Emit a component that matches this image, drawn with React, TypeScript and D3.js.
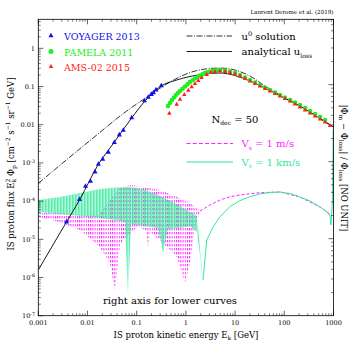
import React from "react";
import * as d3 from "d3";

// ---- data (E in GeV, flux E^2 Phi on left axis) ----
const voyagerE = [0.00374, 0.00687, 0.0091, 0.0115, 0.0142, 0.0166, 0.0204, 0.0265, 0.0351, 0.0443, 0.0534, 0.0791, 0.144, 0.172, 0.198, 0.219, 0.247, 0.316];
const voyagerF = [2.89e-5, 1.11e-4, 2.48e-4, 3.36e-4, 5.89e-4, 9.36e-4, 1.26e-3, 1.93e-3, 3.46e-3, 5.47e-3, 7.26e-3, 0.0154, 0.043, 0.0531, 0.0629, 0.0697, 0.0824, 0.106];

const pamelaE = [0.432, 0.475, 0.521, 0.573, 0.63, 0.69, 0.759, 0.853, 0.959, 1.08, 1.21, 1.36, 1.53, 1.72, 1.94, 2.17, 2.44, 2.75, 3.09, 3.47, 3.9, 4.39, 4.93, 6.24, 7.87, 9.95, 12.6, 15.9, 20.1, 25.4, 32.1, 40.5, 51.2, 64.7, 81.8, 103, 131, 165, 208, 264, 333, 421, 532, 672];
const pamelaF = [0.0309, 0.037, 0.0443, 0.0515, 0.0599, 0.0676, 0.0762, 0.0875, 0.1, 0.115, 0.131, 0.146, 0.162, 0.177, 0.194, 0.21, 0.226, 0.237, 0.247, 0.255, 0.262, 0.267, 0.27, 0.262, 0.247, 0.226, 0.2, 0.172, 0.148, 0.127, 0.109, 0.0942, 0.081, 0.0697, 0.0599, 0.0515, 0.0443, 0.0381, 0.0328, 0.0274, 0.0228, 0.0191, 0.0159, 0.0133];

const amsE = [0.46, 0.65, 0.759, 0.927, 1.12, 1.31, 1.53, 1.79, 2.09, 2.65, 3.24, 3.9, 4.93, 6.24, 7.87, 9.95, 12.6, 15.9, 20.1, 25.4, 32.1, 40.5, 51.2, 64.7, 81.8, 103, 131, 165, 208, 264, 333, 421, 532, 672, 849];
const amsF = [0.0199, 0.0342, 0.0462, 0.0617, 0.0796, 0.0989, 0.12, 0.1435, 0.172, 0.206, 0.232, 0.247, 0.254, 0.247, 0.232, 0.212, 0.188, 0.162, 0.139, 0.12, 0.103, 0.0887, 0.0762, 0.0656, 0.0564, 0.0485, 0.0417, 0.0348, 0.0291, 0.0243, 0.0202, 0.0169, 0.0141, 0.0118, 0.00953];

const u0E = [0.001, 0.01125, 0.0627, 0.186, 0.475, 1.21, 2.44, 4.93, 9.95, 20.1, 40.5, 98.6, 208, 532, 1000];
const u0F = [2.92e-4, 3.86e-3, 0.0228, 0.0599, 0.131, 0.232, 0.287, 0.305, 0.27, 0.188, 0.103, 0.0515, 0.0309, 0.0145, 0.0087];

const lossE = [0.001, 0.00173, 0.00374, 0.00705, 0.01633, 0.0346, 0.0802, 0.1476, 0.312, 0.6, 1.21, 2.44, 4.93, 9.95, 20.1, 40.5, 98.6, 208, 532, 1000];
const lossF = [1.57e-6, 5.25e-6, 2.84e-5, 1.13e-4, 8.81e-4, 3.42e-3, 0.0154, 0.0417, 0.103, 0.1435, 0.183, 0.212, 0.226, 0.194, 0.139, 0.0914, 0.05, 0.0309, 0.0145, 0.0087];

// ---- lower curves, right axis (relative difference) ----
// Vs = 1 km/s : oscillating band (upper / lower envelopes), then smooth tail
const kmsHiE = [0.001, 0.00276, 0.00705, 0.01795, 0.0379, 0.0731, 0.1476, 0.298, 0.6, 1.21, 1.68];
const kmsHi = [3.18e-5, 3.48e-5, 3.93e-5, 4.41e-5, 4.62e-5, 4.69e-5, 4.29e-5, 3.59e-5, 2.91e-5, 2.22e-5, 1.97e-5];
const kmsLoE = [0.001, 0.00276, 0.00705, 0.01795, 0.0379, 0.0578, 0.0665, 0.0766, 0.1476, 0.271, 0.343, 0.432, 0.759, 1.21, 1.68, 2.23];
const kmsLo = [2.22e-5, 2.09e-5, 1.97e-5, 1.86e-5, 1.75e-5, 1.65e-5, 1.86e-6, 1.55e-5, 1.46e-5, 1.38e-5, 6.52e-6, 1.34e-5, 1.38e-5, 1.46e-5, 1.22e-5, 2.91e-6];
const kmsTailE = [2.23, 2.65, 3.61, 4.93, 7.87, 12.6, 20.1, 32.1, 51.2, 81.8, 131, 208, 333, 532, 738, 849, 889, 955, 986];
const kmsTail = [2.91e-6, 9.62e-6, 1.43e-5, 1.93e-5, 2.61e-5, 3.12e-5, 3.51e-5, 3.81e-5, 3.98e-5, 4.04e-5, 3.86e-5, 3.48e-5, 3.09e-5, 2.58e-5, 2.22e-5, 1.97e-5, 1.51e-5, 3.18e-5, 2.58e-4];

// Vs = 1 m/s
const msHiE = [0.001, 0.00276, 0.00705, 0.01795, 0.0286, 0.0458, 0.0731, 0.134, 0.298, 0.659, 1.21, 1.94];
const msHi = [2.16e-5, 2.16e-5, 2.03e-5, 2.09e-5, 3.18e-5, 4.55e-5, 4.98e-5, 4.69e-5, 4.29e-5, 3.48e-5, 2.91e-5, 2.29e-5];
const msLoE = [0.001, 0.00276, 0.00705, 0.01795, 0.0286, 0.0362, 0.0458, 0.0527, 0.1014, 0.1545, 0.17, 0.186, 0.298, 0.659, 0.959, 1.21, 1.53, 1.94];
const msLo = [1.91e-5, 1.65e-5, 1.3e-5, 7.8e-6, 4.83e-6, 2.16e-6, 8.28e-6, 9.62e-6, 1.42e-5, 1.3e-5, 7.8e-6, 1.22e-5, 9.62e-6, 5.78e-6, 2.66e-6, 4.98e-6, 1.42e-5, 2.29e-5];
const msTailE = [1.94, 3.09, 4.93, 7.87, 12.6, 32.1, 81.8, 208, 532, 849];
const msTail = [2.29e-5, 2.74e-5, 3.18e-5, 3.51e-5, 3.7e-5, 3.96e-5, 4.04e-5, 3.48e-5, 2.58e-5, 2.09e-5];

const xTickLabels = ["0.001", "0.01", "0.1", "1", "10", "100", "1000"];
const yDecimalLabels = ["1", "0.1", "0.01"];
const yPowerLabels = ["-3", "-4", "-5", "-6", "-7"];

const W = 353;
const H = 353;
const L = 38.3, R = 333.5, T = 19.3, B = 315.7;
const FONT = "DejaVu Serif";
const GREEN = "#33e89a";
const MAGENTA = "#ff22ff";

export default function App() {
  const x = d3.scaleLog().domain([1e-3, 1e3]).range([L, R]);
  const y = d3.scaleLog().domain([1e-7, 5.75]).range([B, T]);
  const yR = d3.scaleLog().domain([1e-6, 7.06e-3]).range([B, T]);

  const line = d3.line<[number, number]>();
  const pts = (es: number[], vs: number[], sc: d3.ScaleLogarithmic<number, number>) =>
    es.map((e, i) => [x(e), sc(vs[i])] as [number, number]);
  const band = (hiE: number[], hi: number[], loE: number[], lo: number[]) =>
    line(pts(hiE, hi, yR).concat(pts(loE, lo, yR).reverse())) + "Z";

  // ticks
  const xMajor = d3.range(-3, 4).map((p) => 10 ** p);
  const xMinor: number[] = [];
  for (let p = -3; p < 3; p++) for (let k = 2; k < 10; k++) xMinor.push(k * 10 ** p);
  const yMajor = d3.range(-7, 1).map((p) => 10 ** p);
  const yMinor: number[] = [];
  for (let p = -7; p <= 0; p++) for (let k = 2; k < 10; k++) if (k * 10 ** p < 5.75) yMinor.push(k * 10 ** p);
  const rMajor = [1e-5, 1e-4, 1e-3];
  const rMinor: number[] = [];
  for (let p = -6; p <= -3; p++) for (let k = 2; k < 10; k++) if (k * 10 ** p < 7.06e-3) rMinor.push(k * 10 ** p);

  const tri = (cx: number, cy: number, s: number) =>
    `M${cx},${cy - s * 0.62}L${cx + s * 0.55},${cy + s * 0.38}L${cx - s * 0.55},${cy + s * 0.38}Z`;

  return (
    <svg width={W} height={H} style={{ position: "absolute", left: 0, top: 0, background: "#fff" }} fontFamily={FONT}>
      <defs>
        <pattern id="gstripe" width={1.5} height={4} patternUnits="userSpaceOnUse">
          <rect x={0} y={0} width={1} height={4} fill={GREEN} />
        </pattern>
        <pattern id="mstripe" width={2.2} height={4} patternUnits="userSpaceOnUse">
          <rect x={0} y={0} width={1} height={2.4} fill={MAGENTA} />
        </pattern>
        <clipPath id="plot">
          <rect x={L} y={T} width={R - L} height={B - T} />
        </clipPath>
      </defs>

      <text x={R} y={14} textAnchor="end" fontSize={5.6}>Laurent Derome et al. (2019)</text>

      <g clipPath="url(#plot)">
        {/* lower curves, right axis */}
        <path d={band(msHiE, msHi, msLoE, msLo)} fill="url(#mstripe)" />
        <path d={line(pts(msTailE, msTail, yR)) ?? ""} fill="none" stroke={MAGENTA} strokeWidth={1} strokeDasharray="3,2" />
        <path d={band(kmsHiE, kmsHi, kmsLoE, kmsLo)} fill="url(#gstripe)" opacity={0.9} />
        <path d={line(pts(kmsTailE, kmsTail, yR)) ?? ""} fill="none" stroke={GREEN} strokeWidth={1} />

        {/* model curves */}
        <path d={d3.line<[number, number]>().curve(d3.curveMonotoneX)(pts(u0E, u0F, y)) ?? ""} fill="none" stroke="#000" strokeWidth={0.8} strokeDasharray="6,1.5,1,1.5" />
        <path d={d3.line<[number, number]>().curve(d3.curveMonotoneX)(pts(lossE, lossF, y)) ?? ""} fill="none" stroke="#000" strokeWidth={0.9} />

        {/* data */}
        {pamelaE.map((e, i) => (
          <circle key={"p" + i} cx={x(e)} cy={y(pamelaF[i])} r={2.3} fill="#22ee22" />
        ))}
        {amsE.map((e, i) => (
          <path key={"a" + i} d={tri(x(e), y(amsF[i]), 4)} fill="#ff2020" />
        ))}
        {voyagerE.map((e, i) => (
          <path key={"v" + i} d={tri(x(e), y(voyagerF[i]), 4.6)} fill="#1010ee" />
        ))}
      </g>

      {/* frame */}
      <rect x={L} y={T} width={R - L} height={B - T} fill="none" stroke="#000" strokeWidth={0.8} />

      {/* x ticks bottom & top */}
      {xMajor.map((t) => (
        <g key={"xm" + t}>
          <line x1={x(t)} x2={x(t)} y1={B} y2={B - 5} stroke="#000" strokeWidth={0.6} />
          <line x1={x(t)} x2={x(t)} y1={T} y2={T + 5} stroke="#000" strokeWidth={0.6} />
        </g>
      ))}
      {xMinor.map((t) => (
        <g key={"xn" + t}>
          <line x1={x(t)} x2={x(t)} y1={B} y2={B - 2.5} stroke="#000" strokeWidth={0.5} />
          <line x1={x(t)} x2={x(t)} y1={T} y2={T + 2.5} stroke="#000" strokeWidth={0.5} />
        </g>
      ))}
      {xMajor.map((t, i) => (
        <text key={"xl" + t} x={x(t)} y={B + 9} textAnchor="middle" fontSize={6.5}>{xTickLabels[i]}</text>
      ))}

      {/* left y ticks */}
      {yMajor.map((t) => (
        <line key={"ym" + t} x1={L} x2={L + 5} y1={y(t)} y2={y(t)} stroke="#000" strokeWidth={0.6} />
      ))}
      {yMinor.map((t) => (
        <line key={"yn" + t} x1={L} x2={L + 2.5} y1={y(t)} y2={y(t)} stroke="#000" strokeWidth={0.5} />
      ))}
      {yDecimalLabels.map((s, i) => (
        <text key={"yd" + s} x={35} y={y(10 ** -i) + 2.3} textAnchor="end" fontSize={6.5}>{s}</text>
      ))}
      {yPowerLabels.map((s, i) => (
        <text key={"yp" + s} x={35} y={y(10 ** -(i + 3)) + 2.3} textAnchor="end" fontSize={6.5}>
          10<tspan dy={-2.5} fontSize={4.8}>{s}</tspan>
        </text>
      ))}

      {/* right axis ticks */}
      {rMajor.map((t) => (
        <line key={"rm" + t} x1={R} x2={R - 5} y1={yR(t)} y2={yR(t)} stroke="#000" strokeWidth={0.6} />
      ))}
      {rMinor.map((t) => (
        <line key={"rn" + t} x1={R} x2={R - 2.5} y1={yR(t)} y2={yR(t)} stroke="#000" strokeWidth={0.5} />
      ))}

      {/* axis titles */}
      <text x={186} y={338} textAnchor="middle" fontSize={8.5}>
        IS proton kinetic energy E<tspan dy={2} fontSize={6}>k</tspan><tspan dy={-2}>{"  [GeV]"}</tspan>
      </text>
      <text transform="translate(14,164) rotate(-90)" textAnchor="middle" fontSize={8.5}>
        IS proton flux E<tspan dy={2} fontSize={6}>k</tspan><tspan dx={-3.6} dy={-6} fontSize={6}>2</tspan>
        <tspan dy={4}> Φ</tspan><tspan dy={2} fontSize={6}>p</tspan>
        <tspan dy={-2}> [cm</tspan><tspan dy={-4} fontSize={6}>−2</tspan>
        <tspan dy={4}> s</tspan><tspan dy={-4} fontSize={6}>−1</tspan>
        <tspan dy={4}> sr</tspan><tspan dy={-4} fontSize={6}>−1</tspan>
        <tspan dy={4}> GeV]</tspan>
      </text>
      <text transform="translate(341,168) rotate(90)" textAnchor="middle" fontSize={8.5}>
        |Φ<tspan dy={2} fontSize={6}>m</tspan><tspan dy={-2}> − Φ</tspan><tspan dy={2} fontSize={6}>loss</tspan>
        <tspan dy={-2}>| / Φ</tspan><tspan dy={2} fontSize={6}>loss</tspan><tspan dy={-2}>{"   [NO UNIT]"}</tspan>
      </text>

      {/* legends */}
      <path d={tri(51, 35.5, 4.6)} fill="#1010ee" />
      <text x={64} y={39.5} fontSize={9.5} fill="#1010ee">VOYAGER 2013</text>
      <circle cx={51} cy={51.5} r={2.5} fill="#22ee22" />
      <text x={64} y={55.5} fontSize={9.5} fill="#22ee22">PAMELA 2011</text>
      <path d={tri(51, 66.5, 4)} fill="#ff2020" />
      <text x={64} y={70.5} fontSize={9.5} fill="#ff2020">AMS-02 2015</text>

      <line x1={186.5} x2={232} y1={36} y2={36} stroke="#000" strokeWidth={0.8} strokeDasharray="6,1.5,1,1.5" />
      <text x={241.5} y={40} fontSize={10}>u<tspan dy={-4} fontSize={6.5}>0</tspan><tspan dy={4}> solution</tspan></text>
      <line x1={186.5} x2={232} y1={51.5} y2={51.5} stroke="#000" strokeWidth={0.9} />
      <text x={241.5} y={55} fontSize={10}>analytical u<tspan dy={2.5} fontSize={6}>loss</tspan></text>

      <text x={211.5} y={122.5} fontSize={10}>N<tspan dy={2.5} fontSize={6}>dec</tspan><tspan dy={-2.5}> = 50</tspan></text>

      <line x1={186.5} x2={233} y1={143.5} y2={143.5} stroke={MAGENTA} strokeWidth={1} strokeDasharray="4,2.2" />
      <text x={241.5} y={147} fontSize={10} fill={MAGENTA}>V<tspan dy={2.5} fontSize={6}>s</tspan><tspan dy={-2.5}> = 1 m/s</tspan></text>
      <line x1={186.5} x2={233} y1={162} y2={162} stroke={GREEN} strokeWidth={1} />
      <text x={241.5} y={165.5} fontSize={10} fill={GREEN}>V<tspan dy={2.5} fontSize={6}>s</tspan><tspan dy={-2.5}> = 1 km/s</tspan></text>

      <text x={103} y={304} fontSize={10}>right axis for lower curves</text>
    </svg>
  );
}
